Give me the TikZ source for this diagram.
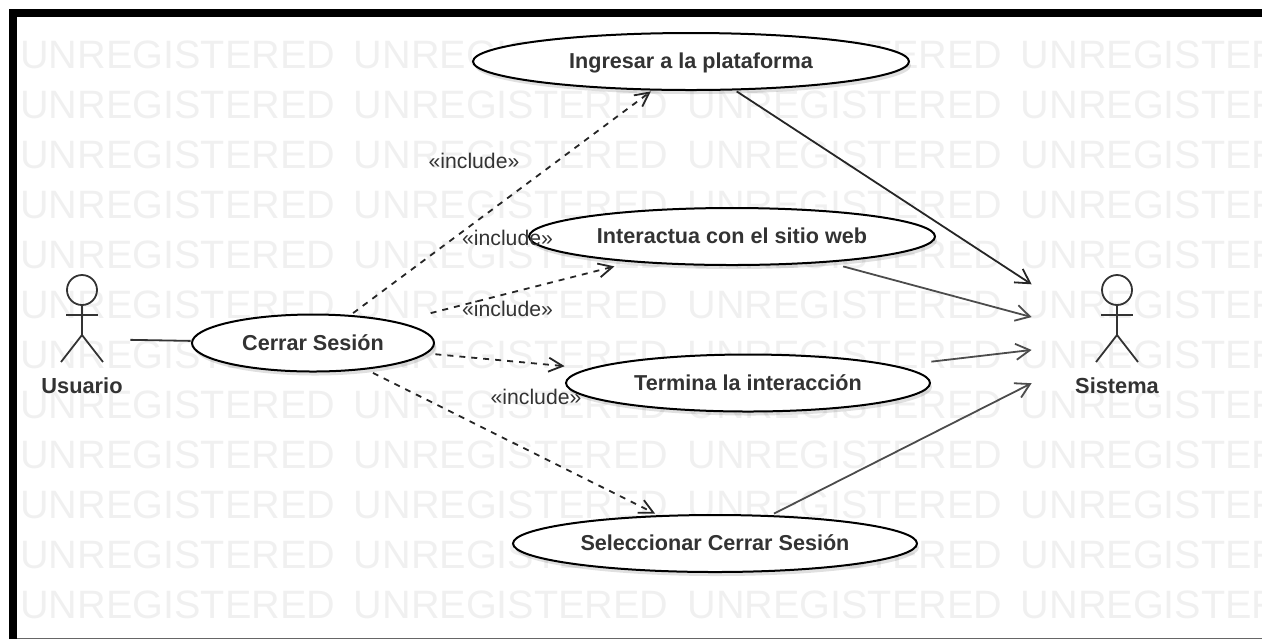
\documentclass[tikz,border=0pt]{standalone}
\usepackage{fontspec}
\setmainfont{Liberation Sans}
\usetikzlibrary{shapes.geometric,shadows,arrows.meta,fit}

\tikzset{
	usecase/.style={draw, ellipse, line width=1pt, fill=white, inner sep=0pt, minimum height=28.5pt, text height=8pt, text depth=1pt,
		font=\bfseries\fontsize{10.8}{13}\selectfont, text=black!80,
		drop shadow={shadow xshift=1pt, shadow yshift=-2pt, opacity=.12, fill=black}},
	casebox/.style={rectangle, inner sep=0pt},
	actorbox/.style={rectangle, minimum height=65pt, inner sep=0pt},
	actorname/.style={font=\bfseries\fontsize{10.9}{13}\selectfont, text=black!80},
	stereo/.style={font=\fontsize{10.6}{13}\selectfont, text=black!80, inner sep=0pt},
	include/.style={dashed, line width=0.9pt, black!85, -{Straight Barb[length=7pt,width=7pt]}},
	assoc/.style={line width=0.9pt, black!70, -{Straight Barb[length=7pt,width=8pt]}},
	watermark/.style={font=\fontsize{19.8}{24}\selectfont, text=black!6, anchor=base west, inner sep=0pt},
	actor/.pic={
		\draw[line width=0.9pt, black!80] (0,-50) circle (15);
		\draw[line width=0.9pt, black!80] (0,-35) -- (0,-5);
		\draw[line width=0.9pt, black!80] (-16,-25) -- (16,-25);
		\draw[line width=0.9pt, black!80] (-21,22) -- (0,-5) -- (21,22);
	}
}

\begin{document}
\begin{tikzpicture}[x=0.5pt, y=-0.5pt]
	\useasboundingbox (0, 0) rectangle (1262, 639);

	\draw[line width=4pt] (13, 639) -- (13, 13) -- (1262, 13);
	\draw[black!60, line width=0.5pt] (17, 638) -- (1262, 638);

	\begin{scope}
		\clip (17, 17) rectangle (1262, 637);
		\foreach \row in {0,...,11} {
			\foreach \col in {0,...,3} {
				\node[watermark] (mark\row_\col) at ({20 + 333.5*\col}, {68 + 50*\row}) {UNREGISTERED};
			}
		}
	\end{scope}

	\draw (82, 339) node[actorbox, minimum width=48pt] (usuario) {};
	\draw (1117, 340) node[actorbox, minimum width=85pt] (sistema) {};
	\pic at (82, 340) {actor};
	\pic at (1117, 340) {actor};
	\draw (82, 386) node[actorname] (usuario_name) {Usuario};
	\draw (1117, 386) node[actorname] (sistema_name) {Sistema};

	\draw (313, 343) node[usecase, minimum width=121pt] (cerrar) {Cerrar Sesión};
	\draw (691, 61.5) node[usecase, minimum width=218pt] (ingresar) {Ingresar a la plataforma};
	\draw (732, 236.5) node[usecase, minimum width=203pt] (interactua) {Interactua con el sitio web};
	\draw (748, 383) node[usecase, minimum width=182pt] (termina) {Termina la interacción};
	\draw (715, 543.5) node[usecase, minimum width=202pt] (seleccionar) {Seleccionar Cerrar Sesión};

	\foreach \case in {cerrar, ingresar, interactua, termina, seleccionar} {
		\node[casebox, fit=(\case)] (\case_box) {};
	}

	\draw[line width=0.9pt, black!80] (usuario) -- (cerrar_box);

	\draw[include] (cerrar_box) -- (ingresar_box);
	\draw[include] (cerrar_box) -- (interactua_box);
	\draw[include] (cerrar_box) -- (termina_box);
	\draw[include] (cerrar_box) -- (seleccionar_box);

	\draw[assoc, black!85] (ingresar_box) -- (sistema);
	\draw[assoc] (interactua_box) -- (sistema);
	\draw[assoc] (termina_box) -- (sistema);
	\draw[assoc] (seleccionar_box) -- (sistema);

	\draw (474, 161) node[stereo] (inc_ingresar) {«include»};
	\draw (507.5, 238) node[stereo] (inc_interactua) {«include»};
	\draw (507.5, 309) node[stereo] (inc_termina) {«include»};
	\draw (536, 397) node[stereo] (inc_seleccionar) {«include»};
\end{tikzpicture}
\end{document}
